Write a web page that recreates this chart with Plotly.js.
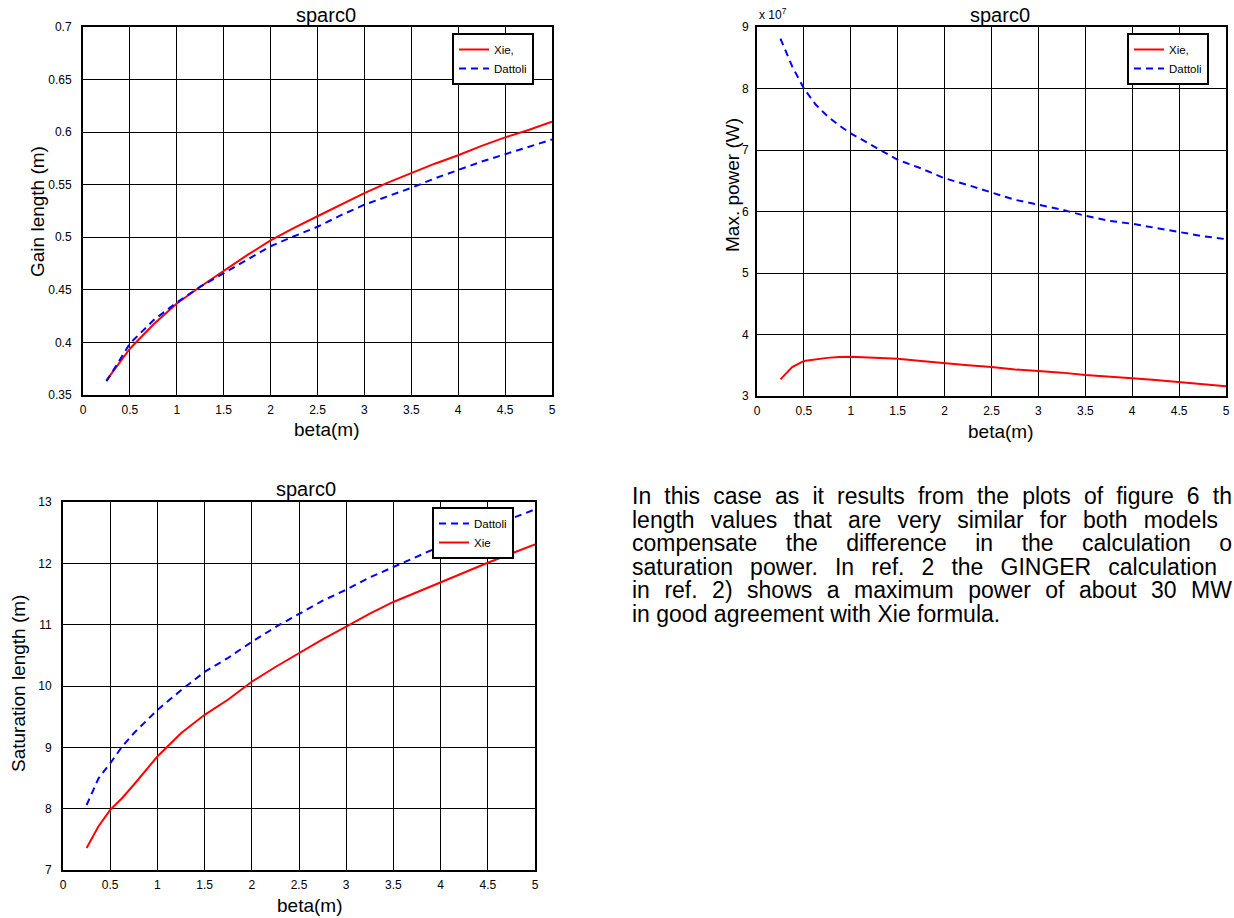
<!DOCTYPE html>
<html>
<head>
<meta charset="utf-8">
<script src="https://cdn.plot.ly/plotly-3.0.1.min.js"></script>
<style>
  html, body { margin: 0; padding: 0; background: #fff; overflow: hidden; }
  #wrap { position: relative; width: 1234px; height: 918px; overflow: hidden; }
  #fig { position: absolute; left: 0; top: 0; width: 1234px; height: 918px; }
  #para { position: absolute; left: 632px; top: 485px; font-family: "Liberation Sans", Arial, sans-serif;
          font-size: 23px; line-height: 23.6px; color: #000; white-space: nowrap; }
  #para .j { display: block; text-align: justify; text-align-last: justify; white-space: normal; }
</style>
</head>
<body>
<div id="wrap">
  <div id="fig"></div>
  <div id="para">
    <span class="j" style="width:600px">In this case as it results from the plots of figure 6 th</span>
    <span class="j" style="width:586px">length values that are very similar for both models</span>
    <span class="j" style="width:600px">compensate the difference in the calculation o</span>
    <span class="j" style="width:585px">saturation power. In ref. 2 the GINGER calculation</span>
    <span class="j" style="width:600px">in ref. 2) shows a maximum power of about 30 MW</span>
    <span>in good agreement with Xie formula.</span>
  </div>
</div>
<script>
// beta function values (m)
const betaGain = [0.25, 0.5, 0.75, 1, 1.25, 1.5, 1.75, 2, 2.25, 2.5, 2.75, 3, 3.25, 3.5, 3.75, 4, 4.25, 4.5, 4.75, 5];
const gainXie = [0.364, 0.394, 0.417, 0.437, 0.453, 0.468, 0.483, 0.497, 0.509, 0.520, 0.531, 0.542, 0.552, 0.561, 0.570, 0.578, 0.587, 0.595, 0.602, 0.610];
const gainDattoli = [0.363, 0.399, 0.421, 0.438, 0.453, 0.466, 0.479, 0.4915, 0.501, 0.510, 0.521, 0.531, 0.539, 0.547, 0.556, 0.564, 0.572, 0.579, 0.586, 0.593];

const betaPower = [0.25, 0.375, 0.5, 0.625, 0.75, 0.875, 1, 1.25, 1.5, 1.75, 2, 2.25, 2.5, 2.75, 3, 3.25, 3.5, 3.75, 4, 4.25, 4.5, 4.75, 5];
const powerXie = [3.27e7, 3.47e7, 3.57e7, 3.60e7, 3.62e7, 3.635e7, 3.64e7, 3.62e7, 3.605e7, 3.57e7, 3.53e7, 3.50e7, 3.47e7, 3.43e7, 3.405e7, 3.38e7, 3.34e7, 3.32e7, 3.29e7, 3.26e7, 3.23e7, 3.20e7, 3.16e7];
const powerDattoli = [8.81e7, 8.36e7, 8.00e7, 7.74e7, 7.55e7, 7.40e7, 7.27e7, 7.05e7, 6.84e7, 6.70e7, 6.54e7, 6.43e7, 6.31e7, 6.19e7, 6.11e7, 6.03e7, 5.93e7, 5.85e7, 5.80e7, 5.73e7, 5.66e7, 5.60e7, 5.55e7];

const betaSat = [0.25, 0.375, 0.5, 0.625, 0.75, 1, 1.25, 1.5, 1.75, 2, 2.25, 2.5, 2.75, 3, 3.25, 3.5, 3.75, 4, 4.25, 4.5, 4.75, 5];
const satXie = [7.36, 7.71, 7.98, 8.17, 8.39, 8.85, 9.23, 9.53, 9.78, 10.07, 10.31, 10.54, 10.76, 10.97, 11.18, 11.37, 11.53, 11.70, 11.86, 12.01, 12.16, 12.31];
const satDattoli = [8.06, 8.49, 8.74, 9.01, 9.23, 9.61, 9.93, 10.23, 10.46, 10.72, 10.96, 11.18, 11.39, 11.57, 11.77, 11.94, 12.11, 12.28, 12.43, 12.58, 12.72, 12.88];

const xTicks = [0, 0.5, 1, 1.5, 2, 2.5, 3, 3.5, 4, 4.5, 5];
const xTickText = ['0', '0.5', '1', '1.5', '2', '2.5', '3', '3.5', '4', '4.5', '5'];
const gainTicks = [0.35, 0.4, 0.45, 0.5, 0.55, 0.6, 0.65, 0.7];
const gainTickText = ['0.35', '0.4', '0.45', '0.5', '0.55', '0.6', '0.65', '0.7'];
const powerTicks = [3e7, 4e7, 5e7, 6e7, 7e7, 8e7, 9e7];
const powerTickText = ['3', '4', '5', '6', '7', '8', '9'];
const satTicks = [7, 8, 9, 10, 11, 12, 13];
const satTickText = ['7', '8', '9', '10', '11', '12', '13'];

const chartTitle = 'sparc0';
const xLabel = 'beta(m)';
const nameXie = 'Xie';
const nameDattoli = 'Dattoli';

// page geometry in pixels
const W = 1234, H = 918;
const px = v => v / W;
const py = v => 1 - v / H;
const boxGain = { l: 83, r: 552, t: 27, b: 395 };
const boxPower = { l: 757, r: 1226, t: 27, b: 396 };
const boxSat = { l: 63, r: 535, t: 502, b: 870 };

const FONT = 'Liberation Sans, Arial, sans-serif';
const RED = '#ff0000', BLUE = '#0000ff';
const redLine = { color: RED, width: 2 };
const blueLine = { color: BLUE, width: 2, dash: '7px,5px' };

const traces = [
  { x: betaGain, y: gainXie, name: nameXie + ',', mode: 'lines', line: redLine, xaxis: 'x', yaxis: 'y', legend: 'legend' },
  { x: betaGain, y: gainDattoli, name: nameDattoli, mode: 'lines', line: blueLine, xaxis: 'x', yaxis: 'y', legend: 'legend' },
  { x: betaPower, y: powerXie, name: nameXie + ',', mode: 'lines', line: redLine, xaxis: 'x2', yaxis: 'y2', legend: 'legend2' },
  { x: betaPower, y: powerDattoli, name: nameDattoli, mode: 'lines', line: blueLine, xaxis: 'x2', yaxis: 'y2', legend: 'legend2' },
  { x: betaSat, y: satDattoli, name: nameDattoli, mode: 'lines', line: blueLine, xaxis: 'x3', yaxis: 'y3', legend: 'legend3' },
  { x: betaSat, y: satXie, name: nameXie, mode: 'lines', line: redLine, xaxis: 'x3', yaxis: 'y3', legend: 'legend3' }
];

function xAxis(box, anchor) {
  return {
    domain: [px(box.l), px(box.r)], anchor: anchor, range: [0, 5],
    tickmode: 'array', tickvals: xTicks, ticktext: xTickText,
    showline: true, mirror: true, linecolor: '#000', linewidth: 2,
    showgrid: true, gridcolor: '#000', gridwidth: 1, zeroline: false,
    ticks: '', ticklabelstandoff: 3,
    tickfont: { family: FONT, size: 12, color: '#000' }, fixedrange: true
  };
}
function yAxis(box, anchor, range, vals, text, standoff) {
  return {
    domain: [py(box.b), py(box.t)], anchor: anchor, range: range,
    tickmode: 'array', tickvals: vals, ticktext: text,
    showline: true, mirror: true, linecolor: '#000', linewidth: 2,
    showgrid: true, gridcolor: '#000', gridwidth: 1, zeroline: false,
    ticks: '', ticklabelstandoff: standoff,
    tickfont: { family: FONT, size: 12, color: '#000' }, fixedrange: true
  };
}
function legendAt(l, t) {
  return {
    x: px(l), y: py(t), xanchor: 'left', yanchor: 'top', xref: 'paper', yref: 'paper',
    bgcolor: '#fff', bordercolor: '#000', borderwidth: 2,
    font: { family: FONT, size: 11.5, color: '#000' }, tracegroupgap: 0, itemwidth: 30
  };
}
function label(text, x, y, size, angle) {
  return {
    text: text, x: px(x), y: py(y), xref: 'paper', yref: 'paper',
    xanchor: 'center', yanchor: 'middle', showarrow: false, textangle: angle || 0,
    font: { family: FONT, size: size, color: '#000' }
  };
}

const layout = {
  width: W, height: H, margin: { l: 0, r: 0, t: 0, b: 0 },
  paper_bgcolor: '#fff', plot_bgcolor: '#fff',
  font: { family: FONT, color: '#000' },
  showlegend: true, hovermode: false, dragmode: false,
  xaxis: xAxis(boxGain, 'y'),
  yaxis: yAxis(boxGain, 'x', [0.35, 0.7], gainTicks, gainTickText, 7),
  xaxis2: xAxis(boxPower, 'y2'),
  yaxis2: yAxis(boxPower, 'x2', [3e7, 9e7], powerTicks, powerTickText, 4),
  xaxis3: xAxis(boxSat, 'y3'),
  yaxis3: yAxis(boxSat, 'x3', [7, 13], satTicks, satTickText, 7),
  legend: legendAt(452, 33),
  legend2: legendAt(1127, 33),
  legend3: legendAt(432, 507),
  annotations: [
    label(chartTitle, 326, 15, 20),
    label(chartTitle, 1000, 15, 20),
    label(chartTitle, 306, 489, 20),
    label(xLabel, 326, 430, 19),
    label(xLabel, 1000, 431, 19),
    label(xLabel, 309, 905, 19),
    label('Gain length (m)', 37, 212, 19, -90),
    label('Max. power (W)', 732, 185, 19, -90),
    label('Saturation length (m)', 18, 684, 19, -90),
    { text: 'x 10<sup>7</sup>', x: px(757), y: py(14), xref: 'paper', yref: 'paper',
      xanchor: 'left', yanchor: 'middle', showarrow: false,
      font: { family: FONT, size: 12, color: '#000' } }
  ]
};

Plotly.newPlot('fig', traces, layout, { displayModeBar: false, responsive: false });
</script>
</body>
</html>
